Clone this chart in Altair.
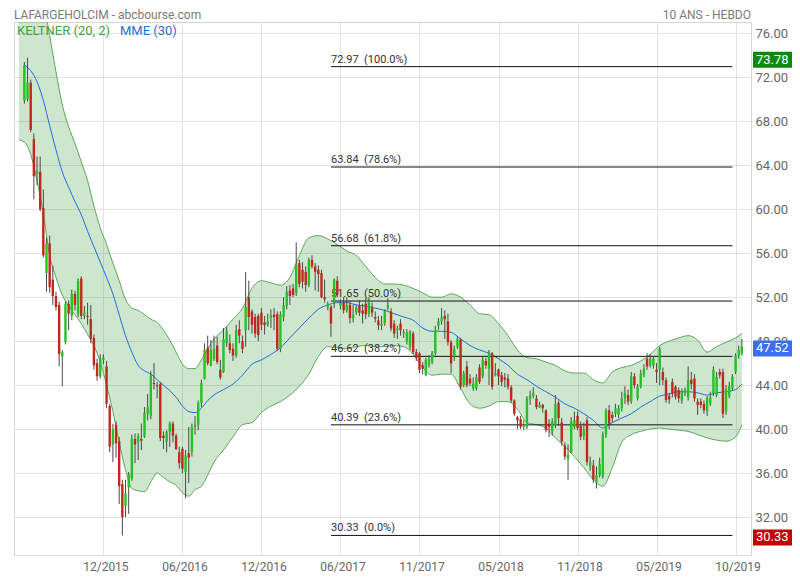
import altair as alt
import pandas as pd

# ---------------- weekly candles (bar index 0 = July 2015) ----------------
opens = [69.9, 70.0, 71.5, 66.4, 63.2, 63.4, 60.1, 54.2, 56.9, 53.6,
         52.1, 51.3, 46.6, 47.9, 51.4, 50.3, 52.3, 50.5, 53.7, 50.3,
         50.3, 50.0, 48.3, 46.0, 44.8, 46.3, 45.7, 42.1, 38.6, 40.4,
         38.9, 35.0, 33.0, 34.7, 35.5, 39.1, 38.8, 39.1, 39.3, 41.4,
         41.2, 44.2, 44.0, 44.1, 39.4, 38.85, 39.75, 40.5, 39.4, 37.9,
         38.2, 36.1, 37.8, 37.9, 40.2, 40.4, 42.4, 44.6, 47.4, 45.8,
         46.4, 47.6, 45.4, 45.2, 47.8, 47.8, 47.3, 46.7, 49.1, 48.0,
         49.0, 52.0, 50.7, 50.2, 50.3, 50.6, 49.7, 49.5, 50.1, 50.4,
         50.45, 47.3, 50.2, 51.2, 52.6, 52.8, 52.4, 55.1, 54.5, 54.3,
         53.1, 55.4, 54.8, 54.5, 54.2, 52.0, 51.1, 51.1, 51.6, 53.5,
         51.2, 51.5, 50.8, 51.3, 50.1, 50.6, 51.2, 50.8, 51.4, 50.5,
         51.0, 50.2, 49.9, 49.4, 49.6, 51.0, 50.7, 49.6, 49.0, 49.6,
         48.7, 48.0, 47.5, 48.7, 47.0, 46.9, 45.8, 44.9, 45.9, 46.1,
         46.9, 49.4, 49.8, 50.3, 49.8, 47.9, 46.6, 47.5, 48.15, 44.0,
         45.7, 44.6, 43.7, 43.7, 45.6, 44.8, 46.2, 45.5, 46.9, 44.9,
         45.4, 44.9, 44.7, 44.6, 43.8, 42.6, 41.1, 40.9, 40.2, 40.2,
         42.7, 43.0, 42.8, 42.0, 42.2, 41.7, 40.5, 39.8, 40.4, 42.4,
         40.6, 38.5, 37.3, 37.9, 40.2, 41.2, 40.3, 39.4, 40.8, 36.6,
         36.7, 35.2, 35.8, 35.7, 39.5, 41.7, 41.3, 41.4, 41.3, 41.9,
         42.8, 43.1, 42.5, 44.8, 42.8, 43.85, 44.9, 46.4, 45.8, 45.8,
         45.4, 45.4, 45.2, 44.45, 43.0, 44.3, 43.85, 43.55, 42.6, 43.3,
         42.9, 44.5, 44.6, 42.5, 42.5, 42.3, 41.6, 42.3, 43.2, 43.1,
         45.2, 45.2, 41.6, 43.0, 43.7, 45.2, 46.7, 46.9]
highs = [73.4, 73.78, 71.8, 66.9, 64.8, 64.8, 61.8, 57.4, 57.6, 54.9,
         52.5, 51.6, 47.2, 51.6, 51.7, 52.7, 52.6, 53.7, 53.9, 51.2,
         51.5, 51.3, 48.6, 46.4, 46.8, 46.8, 46.2, 42.3, 40.5, 40.7,
         39.3, 35.4, 35.4, 36.1, 39.5, 39.6, 39.6, 40.5, 42.0, 43.2,
         45.3, 46.0, 44.3, 44.3, 39.8, 39.9, 40.7, 40.7, 39.6, 38.4,
         38.4, 38.1, 40.2, 40.5, 41.2, 42.6, 44.5, 47.8, 48.5, 48.1,
         48.5, 48.4, 46.3, 49.2, 49.3, 48.6, 47.8, 49.5, 49.9, 48.5,
         54.3, 53.5, 50.9, 50.5, 50.5, 51.0, 50.3, 50.5, 50.9, 51.0,
         50.7, 50.7, 52.0, 53.0, 53.1, 53.2, 57.0, 55.4, 55.2, 54.8,
         55.6, 55.8, 55.1, 54.9, 54.5, 53.6, 51.6, 51.3, 53.7, 53.9,
         51.8, 52.0, 52.0, 51.7, 51.3, 51.3, 51.7, 51.4, 51.9, 52.0,
         51.5, 50.7, 50.3, 50.3, 50.9, 51.9, 51.0, 49.9, 49.4, 50.0,
         49.1, 49.1, 49.0, 48.9, 47.3, 47.0, 46.1, 46.5, 46.7, 47.1,
         49.4, 50.1, 51.0, 50.8, 50.5, 48.1, 47.6, 48.4, 48.3, 45.3,
         46.2, 45.0, 44.7, 45.0, 45.9, 46.6, 46.5, 47.2, 47.0, 46.0,
         45.5, 45.2, 45.1, 45.0, 44.0, 42.7, 41.2, 41.2, 40.8, 43.0,
         43.5, 43.8, 43.1, 42.5, 42.3, 41.8, 40.9, 41.0, 43.1, 42.6,
         41.0, 38.8, 38.6, 41.1, 41.6, 41.6, 40.7, 40.6, 41.1, 37.5,
         37.2, 36.6, 37.4, 39.8, 41.9, 42.2, 41.6, 42.3, 42.2, 43.4,
         43.9, 43.6, 45.2, 45.1, 44.1, 45.4, 45.9, 46.9, 46.8, 46.6,
         46.0, 47.5, 45.6, 44.7, 43.3, 44.6, 44.0, 43.8, 43.7, 43.8,
         45.7, 45.2, 45.0, 42.8, 42.8, 42.6, 43.0, 43.4, 45.7, 45.2,
         45.5, 45.5, 44.0, 44.3, 45.0, 46.9, 47.6, 48.2]
lows = [69.6, 69.8, 67.0, 60.9, 62.2, 59.8, 55.6, 52.5, 52.4, 51.3,
        50.8, 45.7, 43.9, 47.7, 49.0, 49.9, 50.8, 50.2, 50.0, 50.0,
        49.5, 47.8, 45.4, 44.4, 44.6, 45.9, 41.9, 37.9, 37.0, 37.4,
        33.2, 30.33, 32.0, 32.3, 35.3, 36.9, 37.2, 38.1, 39.2, 40.8,
        40.9, 43.6, 42.8, 38.9, 38.2, 37.9, 38.4, 38.8, 38.1, 36.4,
        36.0, 33.7, 35.1, 37.5, 39.5, 39.9, 42.0, 44.5, 45.8, 45.7,
        46.2, 45.9, 44.5, 45.1, 47.5, 46.9, 46.2, 46.5, 47.8, 46.9,
        47.5, 49.0, 48.7, 48.3, 48.0, 49.0, 48.6, 49.3, 49.2, 49.0,
        47.1, 47.0, 49.8, 50.9, 51.3, 52.0, 52.1, 52.9, 52.8, 52.5,
        52.9, 54.6, 52.6, 52.5, 51.9, 51.5, 50.8, 48.4, 51.0, 52.0,
        50.9, 50.5, 50.6, 49.6, 49.7, 50.4, 50.3, 49.6, 50.0, 50.2,
        50.2, 49.7, 49.0, 49.0, 49.4, 50.8, 48.9, 48.3, 48.2, 48.5,
        48.3, 47.7, 47.2, 46.8, 46.2, 45.1, 45.0, 44.8, 45.6, 45.9,
        46.7, 49.0, 49.5, 48.2, 47.6, 45.1, 46.2, 47.3, 43.6, 43.8,
        43.8, 43.9, 43.5, 43.5, 44.1, 44.6, 45.5, 44.0, 43.6, 44.8,
        44.0, 43.9, 43.8, 43.6, 42.4, 41.2, 40.0, 40.0, 39.9, 40.0,
        42.2, 42.8, 41.8, 41.9, 41.5, 39.7, 39.3, 39.4, 40.1, 40.3,
        38.5, 37.2, 35.4, 37.8, 40.0, 39.9, 39.0, 39.0, 36.7, 36.2,
        35.1, 34.6, 35.6, 35.5, 39.2, 40.0, 40.6, 41.1, 41.0, 41.6,
        42.3, 42.2, 42.3, 43.7, 42.6, 43.7, 44.7, 45.4, 45.6, 45.5,
        44.2, 44.0, 44.0, 42.4, 42.3, 42.9, 42.7, 42.4, 42.3, 43.0,
        42.6, 43.6, 42.5, 41.3, 41.9, 41.4, 41.2, 42.1, 43.0, 42.9,
        44.6, 41.0, 41.3, 42.8, 43.5, 45.0, 46.4, 46.7]
closes = [73.1, 71.5, 67.2, 63.0, 63.5, 60.0, 55.8, 56.9, 52.9, 52.1,
          51.1, 46.8, 47.0, 51.4, 50.5, 52.3, 51.3, 53.5, 50.3, 50.6,
          50.2, 48.2, 45.8, 44.8, 46.4, 46.5, 42.3, 38.4, 40.0, 38.7,
          34.8, 32.0, 34.2, 35.9, 39.15, 38.6, 39.4, 38.95, 41.5, 42.0,
          44.9, 44.1, 43.9, 39.2, 39.2, 39.75, 40.5, 39.4, 38.2, 36.9,
          36.4, 37.6, 37.4, 40.2, 40.4, 42.4, 44.2, 47.2, 46.0, 47.2,
          47.3, 46.1, 44.7, 48.2, 48.9, 47.2, 46.7, 49.0, 48.5, 47.3,
          51.1, 50.2, 49.5, 48.7, 48.55, 49.5, 49.45, 49.8, 50.35, 50.2,
          47.3, 50.4, 51.3, 52.5, 52.1, 52.2, 54.9, 53.2, 53.4, 53.1,
          55.4, 54.8, 54.3, 54.1, 52.0, 51.8, 51.4, 49.6, 53.6, 52.2,
          51.5, 50.8, 51.3, 50.1, 50.4, 51.1, 50.6, 50.5, 50.45, 51.6,
          50.6, 50.05, 49.45, 49.55, 50.7, 51.3, 49.15, 48.7, 49.15, 49.0,
          48.85, 48.8, 48.85, 47.0, 46.5, 45.4, 45.5, 46.3, 46.4, 46.9,
          49.0, 49.8, 50.2, 50.0, 47.9, 45.97, 47.3, 48.2, 43.85, 45.06,
          44.0, 44.15, 44.15, 44.7, 44.3, 46.3, 45.8, 46.95, 43.85, 45.1,
          44.8, 44.3, 44.5, 43.85, 42.6, 41.4, 40.8, 40.2, 40.4, 42.8,
          43.1, 43.3, 42.0, 42.2, 41.9, 39.9, 40.2, 40.7, 42.3, 41.0,
          38.85, 37.5, 37.7, 40.7, 40.8, 40.1, 39.3, 39.9, 37.0, 37.0,
          35.4, 35.8, 36.8, 39.5, 41.7, 40.5, 41.0, 41.9, 41.9, 42.8,
          43.3, 42.5, 44.8, 44.0, 43.85, 45.06, 45.5, 45.7, 46.4, 46.4,
          45.2, 47.33, 44.45, 42.64, 42.7, 43.24, 42.94, 42.8, 43.4, 43.55,
          44.45, 44.1, 42.8, 42.2, 42.2, 41.7, 42.8, 42.9, 45.4, 44.76,
          44.9, 41.4, 43.7, 43.9, 44.8, 46.7, 47.2, 47.52]

# ---------------- Keltner channel (20, 2) and MME (30), read at sample bars ----------------
band_x = [-1.7, 0, 2, 4, 6, 8, 10, 12, 14, 16, 18, 20, 22, 24, 26, 28, 30, 32, 34, 36,
          38, 40, 42, 44, 46, 48, 50, 52, 54, 56, 58, 60, 63, 66, 69, 72, 75, 78, 81, 84,
          87, 90, 93, 96, 99, 102, 105, 108, 111, 114, 117, 120, 123, 126, 129, 132, 135, 138, 141, 144,
          147, 150, 153, 156, 159, 162, 165, 168, 171, 174, 177, 180, 183, 186, 189, 192, 195, 198, 201, 204,
          207, 210, 213, 216, 219, 222, 225, 227]
band_upper = [83.0, 82.5, 82.0, 81.0, 79.0, 75.8, 72.5, 69.5, 67.5, 66.0, 64.3, 62.6, 60.3, 58.3, 56.8, 55.1, 53.5, 51.8, 51.0, 50.8,
              50.4, 50.0, 49.7, 49.0, 48.1, 47.0, 45.9, 45.5, 45.5, 46.3, 47.3, 48.2, 49.0, 50.0, 51.0, 52.8, 53.5, 53.3, 53.1, 53.8,
              55.8, 57.4, 57.6, 57.3, 56.8, 56.2, 55.8, 54.8, 53.8, 53.2, 53.2, 53.1, 52.8, 52.4, 52.0, 52.0, 52.3, 52.0, 51.3, 50.5,
              50.4, 49.6, 48.5, 47.2, 46.5, 46.4, 46.1, 45.8, 45.3, 45.1, 45.1, 44.5, 44.2, 45.2, 45.6, 45.8, 46.2, 46.8, 47.6, 48.0,
              48.3, 48.5, 48.1, 47.0, 47.5, 47.9, 48.3, 48.7]
band_lower = [66.3, 66.1, 65.0, 62.6, 59.6, 55.8, 53.8, 52.2, 51.2, 50.4, 49.6, 48.6, 47.6, 46.1, 44.0, 41.6, 38.8, 36.3, 34.6, 34.4,
              34.3, 35.2, 36.0, 35.6, 35.2, 34.9, 34.2, 33.9, 34.5, 34.8, 35.8, 37.0, 38.1, 39.3, 40.4, 40.6, 41.5, 42.1, 42.5, 43.1,
              43.9, 45.0, 46.6, 47.5, 47.4, 47.3, 47.5, 47.6, 47.5, 47.5, 47.6, 47.5, 46.8, 45.6, 44.9, 45.0, 45.0, 43.7, 42.3, 41.9,
              42.1, 42.5, 42.5, 41.8, 40.6, 40.4, 40.1, 39.2, 38.4, 37.5, 36.5, 35.4, 34.8, 36.5, 38.8, 39.5, 39.8, 40.0, 40.1, 40.0,
              39.9, 39.8, 39.5, 39.2, 39.0, 38.9, 39.3, 40.4]
ema_x = band_x[1:]
ema_vals = [73.1, 72.6, 71.6, 69.9, 67.6, 65.4, 63.4, 62.0, 60.7, 59.5, 58.0, 56.6, 55.2, 53.8, 52.3, 50.4, 48.5, 47.0, 45.8,
            45.3, 45.0, 44.5, 44.0, 43.5, 42.9, 42.1, 41.6, 41.5, 41.9, 42.6, 43.1, 43.6, 44.1, 44.9, 45.9, 46.3, 46.8, 47.4, 48.3,
            49.2, 50.1, 50.9, 51.3, 51.5, 51.5, 51.3, 51.2, 51.0, 50.8, 50.5, 50.2, 49.9, 49.2, 48.9, 48.9, 48.8, 48.2, 47.6, 47.2,
            46.9, 46.4, 45.8, 45.0, 44.5, 43.9, 43.4, 42.9, 42.3, 41.9, 41.4, 40.8, 40.1, 40.6, 41.0, 41.4, 42.0, 42.5, 43.0, 43.2,
            43.4, 43.4, 43.3, 43.1, 43.3, 43.4, 43.6, 44.1]

# ---------------- Fibonacci retracement ----------------
fib_values = [72.97, 63.84, 56.68, 51.65, 46.62, 40.39, 30.33]
fib_pcts = ["100.0%", "78.6%", "61.8%", "50.0%", "38.2%", "23.6%", "0.0%"]
fib_start_bar = 97
fib_end_bar = 224

# ---------------- axes ----------------
tick_bars = [25, 50, 75, 100, 125, 150, 175, 200, 225]
tick_labels = ["12/2015", "06/2016", "12/2016", "06/2017", "11/2017", "05/2018", "11/2018", "05/2019", "10/2019"]
y_ticks = [32, 36, 40, 44, 48, 52, 56, 60, 64, 68, 72, 76]

badge_values = [73.78, 47.52, 30.33]
badge_colors = ["#0d8a0d", "#3a6ff0", "#c00000"]

# ---------------- build tables ----------------
n = len(closes)
candles = pd.DataFrame({"i": list(range(n)), "o": opens, "h": highs, "l": lows, "c": closes})
candles["dir"] = ["up" if c >= o else "down" for o, c in zip(opens, closes)]
band = pd.DataFrame({"x": band_x, "upper": band_upper, "lower": band_lower})
ema = pd.DataFrame({"x": ema_x, "ema": ema_vals})
fib = pd.DataFrame({"v": fib_values,
                    "label": [f"{v:.2f}\u00a0 ({p})" for v, p in zip(fib_values, fib_pcts)],
                    "x0": [fib_start_bar] * len(fib_values),
                    "x1": [fib_end_bar] * len(fib_values)})
badges = pd.DataFrame({"v": badge_values, "color": badge_colors,
                       "label": [f"{v:.2f}" for v in badge_values]})

W, H = 737, 533
x_scale = alt.Scale(domain=[-1.7, 228.3], nice=False, zero=False)
y_scale = alt.Scale(domain=[28.55, 77.03], nice=False, zero=False)
label_expr = "[" + ",".join(f"'{l}'" for l in tick_labels) + "][round(datum.value/25)-1]"
x_axis = alt.Axis(values=tick_bars, labelExpr=label_expr, grid=True, gridColor="#e2e2e2",
                  ticks=False, domain=False, labelColor="#666666", labelFontSize=12,
                  labelPadding=6, labelOffset=2, title=None)
y_axis = alt.Axis(orient="right", values=y_ticks, format=".2f", grid=True, gridColor="#e2e2e2",
                  ticks=False, domain=False, labelColor="#666666", labelFontSize=13,
                  labelPadding=4, title=None)


def X(f):
    return alt.X(f, type="quantitative", scale=x_scale, axis=x_axis, title=None)


def Y(f):
    return alt.Y(f, type="quantitative", scale=y_scale, axis=y_axis, title=None)


area = alt.Chart(band).mark_area(interpolate="monotone", color="#3c9c3c", opacity=0.25, clip=True).encode(
    x=X("x"), y=Y("upper"), y2="lower")
up_line = alt.Chart(band).mark_line(interpolate="monotone", color="#5aa85a", strokeWidth=1, clip=True).encode(
    x=X("x"), y=Y("upper"))
lo_line = alt.Chart(band).mark_line(interpolate="monotone", color="#5aa85a", strokeWidth=1, clip=True).encode(
    x=X("x"), y=Y("lower"))
ema_line = alt.Chart(ema).mark_line(interpolate="monotone", color="#1f6fd6", strokeWidth=1, clip=True).encode(
    x=X("x"), y=Y("ema"))
fib_rule = alt.Chart(fib).mark_rule(color="#111111", strokeWidth=1).encode(x=X("x0"), x2="x1", y=Y("v"))
fib_text = alt.Chart(fib).mark_text(align="left", baseline="bottom", dy=-2, fontSize=11, color="#333333").encode(
    x=X("x0"), y=Y("v"), text="label:N")
wicks = alt.Chart(candles).mark_rule(color="#4a4a4a", strokeWidth=1).encode(x=X("i"), y=Y("l"), y2="h")
bodies = alt.Chart(candles).mark_bar(size=2.4).encode(
    x=X("i"), y=Y("o"), y2="c",
    color=alt.Color("dir:N", scale=alt.Scale(domain=["up", "down"], range=["#22c322", "#c0281c"]), legend=None))
badge_rect = alt.Chart(badges).mark_tick(thickness=16, size=39, opacity=1, yOffset=2).encode(
    x=alt.value(758.5), y=Y("v"), color=alt.Color("color:N", scale=None))
badge_text = alt.Chart(badges).mark_text(align="left", baseline="middle", dy=2, fontSize=13, color="white").encode(
    x=alt.value(742), y=Y("v"), text="label:N")

title_l = alt.Chart(pd.DataFrame({"t": ["LAFARGEHOLCIM - abcbourse.com"]})).mark_text(
    align="left", baseline="middle", fontSize=12, color="#7a7a7a").encode(x=alt.value(0), y=alt.value(-7), text="t:N")
title_r = alt.Chart(pd.DataFrame({"t": ["10 ANS - HEBDO"]})).mark_text(
    align="right", baseline="middle", fontSize=12, color="#7a7a7a").encode(x=alt.value(737), y=alt.value(-7), text="t:N")
leg_k = alt.Chart(pd.DataFrame({"t": ["KELTNER (20, 2)"]})).mark_text(
    align="left", baseline="middle", fontSize=13, color="#45a045").encode(x=alt.value(3), y=alt.value(8.5), text="t:N")
leg_m = alt.Chart(pd.DataFrame({"t": ["MME (30)"]})).mark_text(
    align="left", baseline="middle", fontSize=13, color="#2a6fd0").encode(x=alt.value(106), y=alt.value(8.5), text="t:N")

chart = alt.layer(area, up_line, lo_line, ema_line, fib_rule, fib_text, wicks, bodies,
                  badge_rect, badge_text, title_l, title_r, leg_k, leg_m).properties(
    width=W, height=H,
    autosize=alt.AutoSizeParams(type="none"),
    padding={"left": 6, "top": 14, "right": 41, "bottom": 17},
).configure(font="Roboto").configure_view(stroke="#d6d6d6", strokeWidth=1)

chart.save("out.html", embed_options={"renderer": "svg", "actions": False})
